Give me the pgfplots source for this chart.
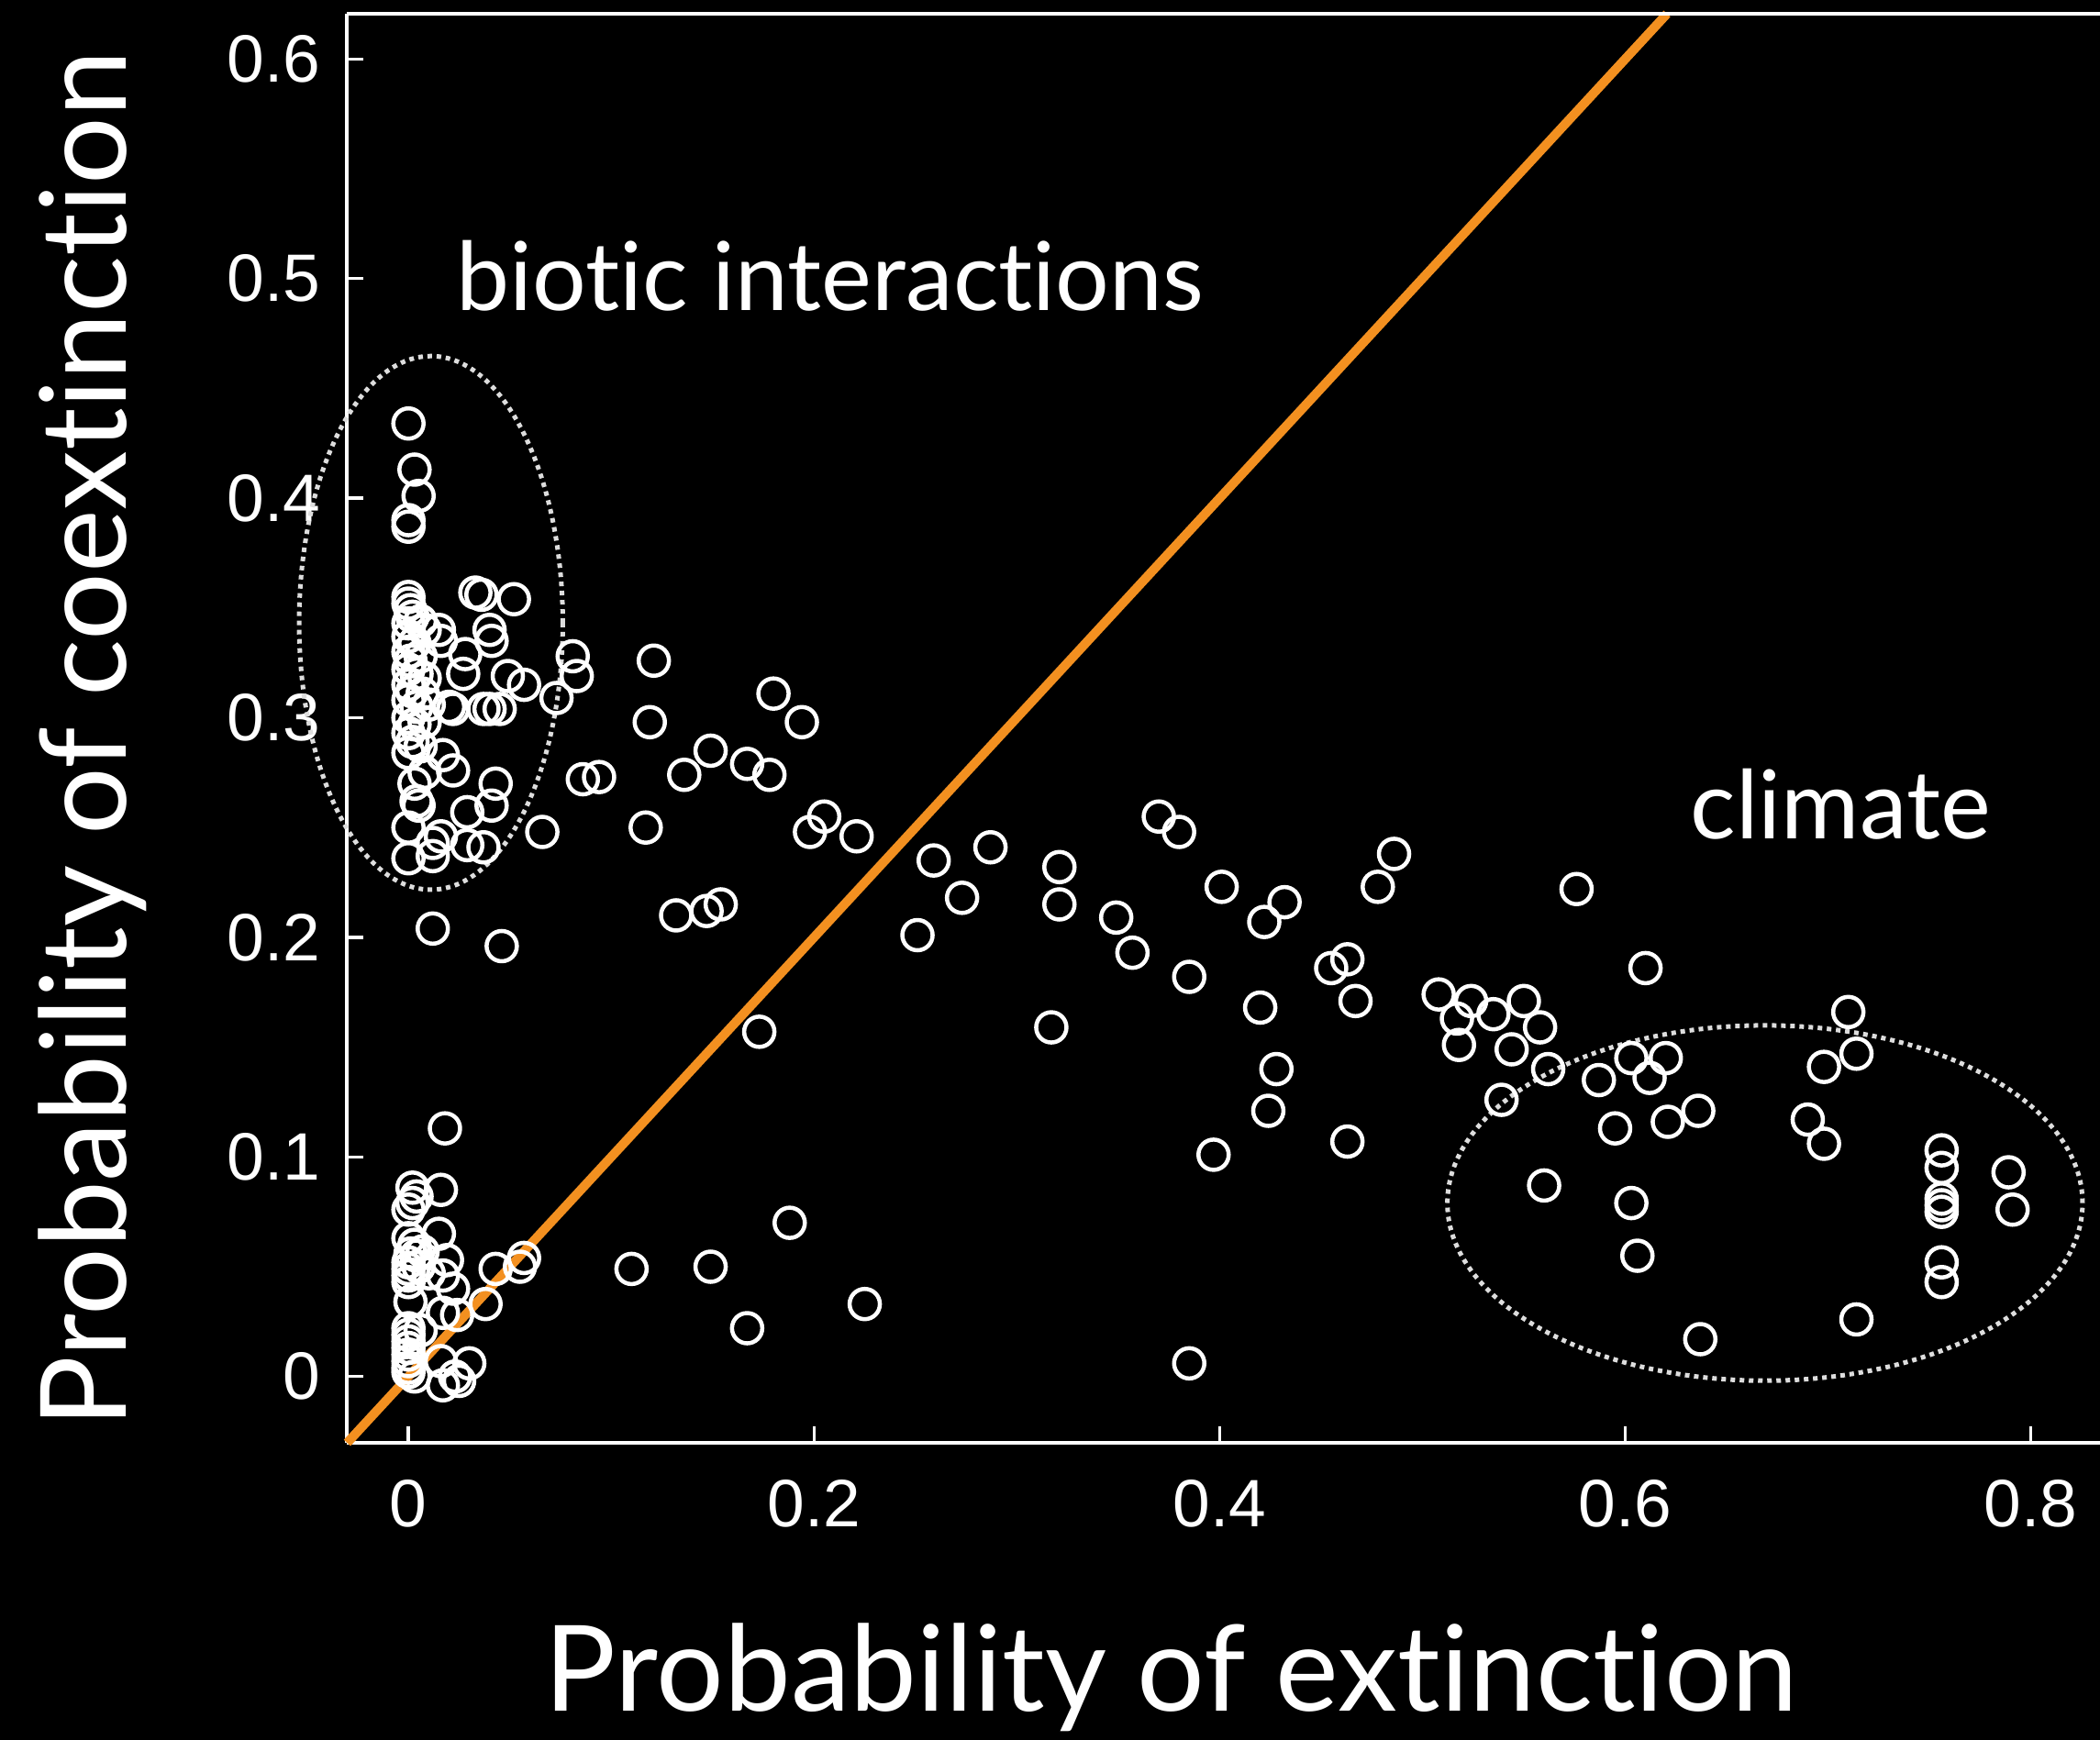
\documentclass[border=0pt]{standalone}
\usepackage{fontspec}
\setmainfont{Lato}[Ligatures={NoCommon}]
\newfontfamily\tickfont{Liberation Sans}
\usepackage{pgfplots}
\pgfplotsset{compat=1.18}
\definecolor{lineorange}{HTML}{F39020}
\definecolor{dotgray}{HTML}{DDDDDD}
\pgfplotstableread{
x y
0.000 0.434
0.003 0.413
0.005 0.401
0.000 0.390
0.000 0.387
0.000 0.355
0.000 0.352
0.001 0.349
0.002 0.346
0.000 0.343
0.006 0.344
0.008 0.340
0.000 0.337
0.003 0.334
0.000 0.330
0.001 0.326
0.006 0.328
0.000 0.322
0.004 0.320
0.008 0.318
0.000 0.315
0.002 0.312
0.007 0.311
0.000 0.308
0.004 0.305
0.010 0.306
0.000 0.300
0.003 0.297
0.008 0.298
0.000 0.293
0.002 0.289
0.006 0.287
0.000 0.284
0.008 0.275
0.003 0.270
0.004 0.262
0.005 0.260
0.000 0.250
0.000 0.236
0.033 0.357
0.036 0.356
0.052 0.354
0.040 0.340
0.041 0.335
0.015 0.340
0.016 0.335
0.028 0.329
0.027 0.320
0.049 0.319
0.057 0.315
0.081 0.328
0.083 0.319
0.073 0.309
0.020 0.305
0.022 0.304
0.037 0.304
0.040 0.304
0.045 0.304
0.017 0.283
0.022 0.276
0.043 0.270
0.029 0.257
0.041 0.260
0.066 0.248
0.016 0.246
0.012 0.243
0.029 0.242
0.037 0.241
0.012 0.237
0.086 0.272
0.094 0.273
0.012 0.204
0.046 0.196
0.018 0.113
0.002 0.086
0.016 0.085
0.004 0.082
0.002 0.079
0.000 0.076
0.015 0.065
0.000 0.063
0.003 0.060
0.001 0.056
0.007 0.057
0.004 0.055
0.005 0.050
0.019 0.053
0.000 0.052
0.000 0.049
0.000 0.046
0.000 0.043
0.010 0.047
0.017 0.046
0.022 0.040
0.001 0.034
0.017 0.029
0.024 0.028
0.038 0.033
0.043 0.049
0.055 0.050
0.057 0.054
0.000 0.022
0.000 0.019
0.000 0.016
0.000 0.013
0.000 0.010
0.000 0.007
0.000 0.004
0.000 0.002
0.003 0.000
0.006 0.021
0.016 0.007
0.023 0.000
0.017 -0.004
0.025 -0.002
0.030 0.006
0.110 0.049
0.149 0.050
0.188 0.070
0.167 0.022
0.225 0.033
0.121 0.326
0.119 0.298
0.117 0.250
0.136 0.274
0.149 0.285
0.167 0.279
0.178 0.274
0.180 0.311
0.194 0.298
0.198 0.248
0.205 0.255
0.221 0.246
0.132 0.210
0.147 0.212
0.154 0.215
0.173 0.157
0.251 0.201
0.259 0.235
0.273 0.218
0.287 0.241
0.321 0.232
0.321 0.215
0.317 0.159
0.349 0.209
0.357 0.193
0.370 0.255
0.380 0.248
0.385 0.182
0.397 0.101
0.385 0.006
0.401 0.223
0.420 0.168
0.422 0.207
0.432 0.216
0.428 0.140
0.424 0.121
0.455 0.186
0.463 0.190
0.467 0.171
0.463 0.107
0.478 0.223
0.486 0.238
0.508 0.174
0.517 0.163
0.518 0.151
0.524 0.171
0.535 0.165
0.544 0.149
0.550 0.171
0.558 0.159
0.562 0.140
0.539 0.126
0.560 0.087
0.576 0.222
0.587 0.135
0.595 0.113
0.603 0.145
0.612 0.136
0.610 0.186
0.620 0.145
0.621 0.116
0.603 0.079
0.606 0.055
0.636 0.121
0.637 0.017
0.690 0.117
0.698 0.106
0.698 0.141
0.710 0.166
0.714 0.147
0.714 0.026
0.756 0.103
0.756 0.095
0.756 0.081
0.756 0.078
0.756 0.075
0.756 0.052
0.756 0.043
0.789 0.093
0.791 0.076
}\pts
\begin{document}
\begin{tikzpicture}
\fill[black] (-4.0,-3.5) rectangle (19.4,16.0);
\begin{axis}[
  at={(0,0)}, anchor=south west,
  scale only axis, width=19.11cm, height=15.58cm,
  xmin=-0.0304, xmax=0.8341, ymin=-0.0302, ymax=0.6206,
  axis lines*=left,
  axis line style={white, line width=0.035cm},
  clip=false,
  tick align=inside,
  major tick length=0.18cm,
  tick style={white, line width=0.035cm},
  xtick={0,0.2,0.4,0.6,0.8},
  xticklabels={\mbox{0},\mbox{0.2},\mbox{0.4},\mbox{0.6},\mbox{0.8}},
  ytick={0,0.1,0.2,0.3,0.4,0.5,0.6},
  yticklabels={\mbox{0},\mbox{0.1},\mbox{0.2},\mbox{0.3},\mbox{0.4},\mbox{0.5},\mbox{0.6}},
  xticklabel style={font=\tickfont\fontsize{20.8}{25}\selectfont, text=white, anchor=north, inner sep=0pt, yshift=-0.40cm},
  yticklabel style={font=\tickfont\fontsize{20.8}{25}\selectfont, text=white, anchor=east, inner sep=0pt, xshift=-0.28cm},
  xlabel={Probability of extinction},
  ylabel={Probability of coextinction},
  xlabel style={at={(axis description cs:0.4704,-0.188)}, anchor=base, font=\fontsize{37}{44}\selectfont, text=white, inner sep=0pt},
  ylabel style={at={(axis description cs:-0.1256,0.4923)}, anchor=base, font=\fontsize{37}{44}\selectfont, text=white, inner sep=0pt},
]
\addplot[only marks, mark=o, mark size=0.165cm, white, mark options={line width=0.045cm}] table[x=x,y=y] {\pts};
\draw[dotgray, line width=0.05cm, dash pattern=on 0.05cm off 0.05cm] (axis cs:0.0111,0.3432) ellipse [x radius=0.0650, y radius=0.1215];
\draw[dotgray, line width=0.05cm, dash pattern=on 0.05cm off 0.05cm] (axis cs:0.6689,0.0790) ellipse [x radius=0.1566, y radius=0.0809];
\addplot[lineorange, line width=0.10cm] coordinates {(-0.0302,-0.0302) (0.6206,0.6206)};
\draw[white, line width=0.035cm] (rel axis cs:0,1) -- (rel axis cs:1,1);
\node[anchor=base west, inner sep=0pt, text=white, font=\fontsize{29.5}{35}\selectfont] at (axis cs:0.0235,0.4853) {biotic interactions};
\node[anchor=base west, inner sep=0pt, text=white, font=\fontsize{29.5}{35}\selectfont] at (axis cs:0.632,0.2447) {climate};
\end{axis}
\pgfresetboundingbox
\useasboundingbox (-3.78,-3.23) rectangle (19.11,15.73);
\end{tikzpicture}
\end{document}
